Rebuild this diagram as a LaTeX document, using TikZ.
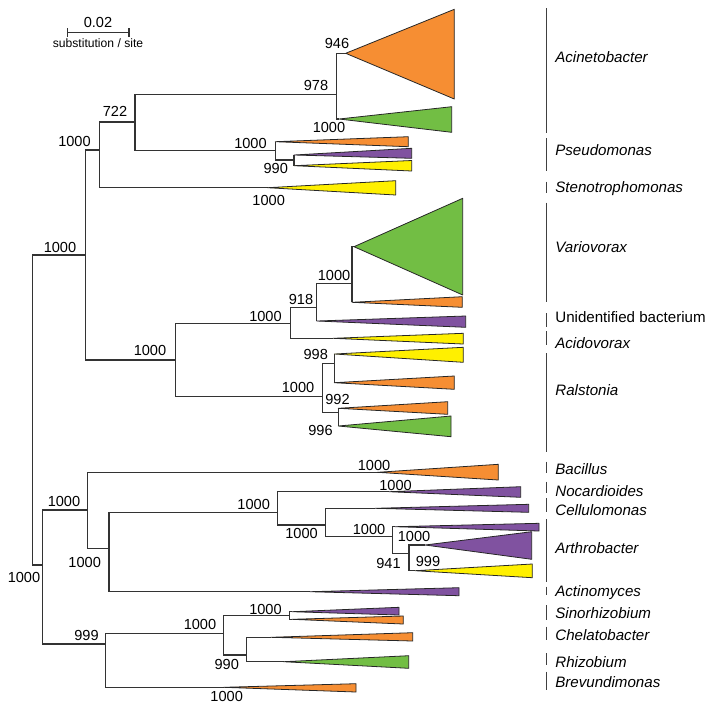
\documentclass[tikz,border=0pt]{standalone}
\usepackage{fontspec}
\setmainfont{Liberation Sans}
\definecolor{cladeorange}{RGB}{246,142,51}
\definecolor{cladegreen}{RGB}{114,190,68}
\definecolor{cladepurple}{RGB}{128,82,160}
\definecolor{cladeyellow}{RGB}{255,240,0}
\usepackage{tikz}

\begin{document}
\begin{tikzpicture}[x=0.02cm,y=-0.02cm,
  branch/.style={draw=black!80,line width=0.65pt},
  clade/.style={draw=black!85,line width=0.45pt,line join=round},
  boot/.style={font=\fontsize{8.3}{10}\selectfont,inner sep=0pt,text height=6pt,text depth=0pt},
  taxon/.style={font=\fontsize{8.6}{10}\selectfont\itshape,anchor=west,inner sep=0pt,text height=6.2pt,text depth=0pt},
  genbar/.style={draw=black!75,line width=0.7pt}]
  \useasboundingbox (0,0) rectangle (713,711);

  % scale bar
  \coordinate (sbl) at (67.7,32.3);
  \coordinate (sbr) at (129,32.3);
  \draw[branch] (sbl) -- (sbr);
  \draw[branch] ([yshift=-2.7pt]sbl) -- ([yshift=2.7pt]sbl);
  \draw[branch] ([yshift=-2.7pt]sbr) -- ([yshift=2.7pt]sbr);
  \node[boot] (sbval) at (98,22.7) {0.02};
  \node[boot,font=\fontsize{6.9}{8}\selectfont,text height=5pt] (sbunit) at (98,42.7) {substitution / site};

  % internal nodes
  \coordinate (root) at (32.3,410);
  \coordinate (nP) at (85.7,255);
  \coordinate (nG) at (99.3,150);
  \coordinate (n722) at (135,122);
  \coordinate (n978) at (336.7,94.7);
  \coordinate (nPse) at (275.3,150.7);
  \coordinate (nPse2) at (294,160);
  \coordinate (nB) at (175.7,360);
  \coordinate (nVA) at (290.7,323.3);
  \coordinate (n918) at (316.7,307.7);
  \coordinate (nVar) at (352,283.3);
  \coordinate (nRal) at (322.3,396.7);
  \coordinate (n998) at (334.3,363.3);
  \coordinate (n996) at (338.3,412.7);
  \coordinate (nL) at (42.7,565);
  \coordinate (nF) at (87.7,510);
  \coordinate (nA) at (109,548.3);
  \coordinate (nA2) at (277.3,512.7);
  \coordinate (nA3) at (325.7,525);
  \coordinate (n941) at (392.3,536.7);
  \coordinate (n999) at (409,553.3);
  \coordinate (nR) at (105.7,644);
  \coordinate (nR2) at (223.3,633.3);
  \coordinate (nSin) at (289.3,615.7);
  \coordinate (nChe) at (246.7,655);

  % collapsed clades: apex
  \coordinate (aAci1) at (345.7,53.3);
  \coordinate (aAci2) at (339,119);
  \coordinate (aPse1) at (275.3,141.7);
  \coordinate (aPse2) at (294,155);
  \coordinate (aPse3) at (294,165.7);
  \coordinate (aSte) at (267.6,187.7);
  \coordinate (aVar1) at (354,246.7);
  \coordinate (aVar2) at (352,302.3);
  \coordinate (aUni) at (316.7,321);
  \coordinate (aAcd) at (333,338.3);
  \coordinate (aRal1) at (334.3,354);
  \coordinate (aRal2) at (334.3,382.7);
  \coordinate (aRal3) at (338.3,408.3);
  \coordinate (aRal4) at (338.3,426);
  \coordinate (aBac) at (377.5,472.3);
  \coordinate (aNoc) at (389,491.7);
  \coordinate (aCel) at (375,508.3);
  \coordinate (aArt1) at (395,526.7);
  \coordinate (aArt2) at (425,545);
  \coordinate (aArt3) at (415,570.7);
  \coordinate (aAct) at (310,591.7);
  \coordinate (aSin1) at (292,611.7);
  \coordinate (aSin2) at (292,619.3);
  \coordinate (aChe) at (270.7,637.3);
  \coordinate (aRhi) at (283.5,661.7);
  \coordinate (aBre) at (223.6,687.3);

  % branches
  \foreach \p/\c in {root/nP,root/nL,nP/nG,nP/nB,nG/n722,nG/aSte,n722/n978,n722/nPse,
      n978/aAci1,n978/aAci2,nPse/aPse1,nPse/nPse2,nPse2/aPse2,nPse2/aPse3,
      nB/nVA,nB/nRal,nVA/n918,nVA/aAcd,n918/nVar,n918/aUni,nVar/aVar1,nVar/aVar2,
      nRal/n998,nRal/n996,n998/aRal1,n998/aRal2,n996/aRal3,n996/aRal4,
      nL/nF,nL/nR,nF/aBac,nF/nA,nA/nA2,nA/aAct,nA2/aNoc,nA2/nA3,nA3/aCel,nA3/n941,
      n941/aArt1,n941/n999,n999/aArt2,n999/aArt3,
      nR/nR2,nR/aBre,nR2/nSin,nR2/nChe,nSin/aSin1,nSin/aSin2,nChe/aChe,nChe/aRhi}
    \draw[branch] (\p) |- (\c);

  % triangles
  \foreach \a/\xr/\yt/\yb/\col in {
      aAci1/454.3/9.3/99/cladeorange, aAci2/451.7/106.7/132.3/cladegreen,
      aPse1/408.3/136.7/146.7/cladeorange, aPse2/411.7/148.3/158.3/cladepurple,
      aPse3/411.7/160.5/171/cladeyellow, aSte/395.7/180.7/195/cladeyellow,
      aVar1/462.7/198.3/295/cladegreen, aVar2/462.3/296.7/307.3/cladeorange,
      aUni/465.7/316/327.3/cladepurple, aAcd/463.3/333.3/344/cladeyellow,
      aRal1/463.3/347.3/362.3/cladeyellow, aRal2/454.3/376/389.3/cladeorange,
      aRal3/447.7/401.7/414.3/cladeorange, aRal4/451/416/436.7/cladegreen,
      aBac/498.3/464.3/480/cladeorange, aNoc/520.7/486.7/497.3/cladepurple,
      aCel/528.7/504.3/512.3/cladepurple, aArt1/539/523.3/531/cladepurple,
      aArt2/531.7/531.7/559.3/cladepurple, aArt3/532.3/564/577.7/cladeyellow,
      aAct/459/587.7/595.7/cladepurple, aSin1/399/607.3/615/cladepurple,
      aSin2/403.3/616/624/cladeorange, aChe/412.7/632.7/641/cladeorange,
      aRhi/408.7/655.7/668.3/cladegreen, aBre/356/683.7/692/cladeorange}
    \draw[clade,fill=\col] (\a) -- (\xr,\yt) -- (\xr,\yb) -- cycle;

  % bootstrap values
  \foreach \x/\y/\t [count=\i] in {24/577/1000, 60/247.3/1000, 74.5/141.7/1000,
      115/111.7/722, 316/85/978, 337/43/946, 329/127.7/1000, 250.5/143.3/1000,
      275.7/168/990, 268.7/200.7/1000, 150/350.7/1000, 265.5/316.7/1000,
      301/299.3/918, 334/275.7/1000, 298/387.3/1000, 315.8/354.3/998,
      337.5/399.3/992, 320.5/430/996, 64/501.7/1000, 374/465.5/1000,
      84.7/562.3/1000, 253.7/504/1000, 395.5/485/1000, 301.5/533.3/1000,
      369/529/1000, 388.5/563.3/941, 414/536/1000, 428/561.7/999,
      86.5/635/999, 200/624/1000, 226.7/664.3/990, 265.5/609/1000, 226.7/696.7/1000}
    \node[boot] (bs\i) at (\x,\y) {\t};

  % genus bars
  \foreach \ya/\yb/\yl/\name [count=\i] in {8.3/132.7/57.3/Acinetobacter,
      138.3/170.7/150/Pseudomonas, 181.7/192.7/186.7/Stenotrophomonas,
      202.7/301.7/246.7/Variovorax, 313/327/317/{\upshape Unidentified bacterium},
      331/345/343/Acidovorax, 353/451.7/390/Ralstonia, 461.7/473/469/Bacillus,
      481.7/493/491/Nocardioides, 498/511.7/510/Cellulomonas,
      519/581.7/547.7/Arthrobacter, 586.7/595/591/Actinomyces,
      605/620/613.3/Sinorhizobium, 626.7/640/635/Chelatobacter,
      653.3/665/661.7/Rhizobium, 671.7/690/681.7/Brevundimonas}
  {
    \draw[genbar] (546.7,\ya) -- (546.7,\yb);
    \node[taxon] (tx\i) at (555,\yl) {\name};
  }
\end{tikzpicture}
\end{document}
